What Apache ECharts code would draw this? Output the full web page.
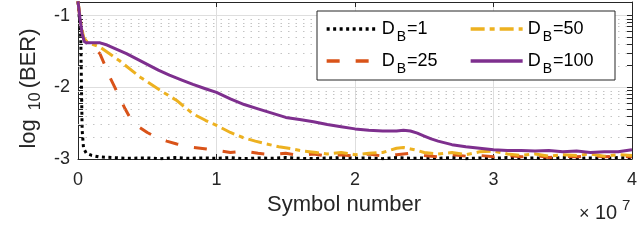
<!DOCTYPE html>
<html>
<head>
<meta charset="utf-8">
<script src="https://cdn.jsdelivr.net/npm/echarts@6/dist/echarts.min.js"></script>
<style>html,body{margin:0;padding:0;background:#fff;}#c{width:640px;height:250px;}</style>
</head>
<body>
<div id="c"></div>
<script>
// x in units of 1e7 symbols, y = log10(BER)
const xTicks = [0, 1, 2, 3, 4];
const yTicks = [-3, -2, -1];
const seriesNames = ['D_B=1', 'D_B=25', 'D_B=50', 'D_B=100'];

const xB1 = [0, 0.02, 0.025, 0.03, 0.04, 0.06, 0.1, 0.15, 0.25, 0.35, 0.5, 0.6, 0.7, 0.8, 0.9, 1.0, 1.1, 1.2, 1.3, 1.4, 1.5, 1.6, 1.7, 1.8, 1.9, 2.0, 2.1, 2.2, 2.3, 2.4, 2.5, 2.6, 2.7, 2.8, 2.9, 3.0, 3.1, 3.2, 3.3, 3.4, 3.5, 3.6, 3.7, 3.8, 3.9, 4.0];
const yB1 = [-0.8, -1.3, -2.0, -2.6, -2.85, -2.92, -2.95, -2.97, -2.98, -2.99, -2.985, -2.995, -2.98, -2.99, -2.985, -2.99, -2.98, -2.995, -2.985, -2.99, -2.98, -2.99, -2.995, -2.985, -2.98, -2.99, -2.985, -2.995, -2.98, -2.99, -2.985, -2.99, -2.98, -2.995, -2.985, -2.99, -2.98, -2.99, -2.985, -2.995, -2.98, -2.99, -2.985, -2.99, -2.98, -2.985];

const xB25 = [0, 0.02, 0.04, 0.07, 0.1, 0.158, 0.2, 0.23, 0.266, 0.3, 0.34, 0.374, 0.446, 0.5, 0.569, 0.64, 0.713, 0.8, 0.929, 1.0, 1.1, 1.2, 1.3, 1.4, 1.5, 1.6, 1.7, 1.8, 1.9, 2.0, 2.1, 2.2, 2.3, 2.4, 2.5, 2.6, 2.7, 2.8, 2.9, 3.0, 3.1, 3.2, 3.3, 3.4, 3.5, 3.6, 3.7, 3.8, 3.9, 4.0];
const yB25 = [-0.8, -1.15, -1.32, -1.38, -1.42, -1.53, -1.72, -1.86, -2.0, -2.14, -2.3, -2.42, -2.56, -2.63, -2.7, -2.75, -2.79, -2.83, -2.86, -2.88, -2.91, -2.89, -2.92, -2.94, -2.92, -2.95, -2.93, -2.96, -2.94, -2.96, -2.93, -2.96, -2.94, -2.92, -2.95, -2.97, -2.94, -2.96, -2.95, -2.97, -2.95, -2.97, -2.95, -2.98, -2.96, -2.97, -2.95, -2.97, -2.96, -2.97];

const xB50 = [0, 0.02, 0.04, 0.07, 0.12, 0.16, 0.3, 0.45, 0.6, 0.71, 0.83, 0.92, 1.0, 1.1, 1.19, 1.28, 1.36, 1.45, 1.55, 1.63, 1.72, 1.8, 1.9, 2.0, 2.1, 2.2, 2.25, 2.3, 2.35, 2.4, 2.45, 2.5, 2.6, 2.7, 2.8, 2.9, 3.0, 3.1, 3.2, 3.3, 3.4, 3.5, 3.6, 3.7, 3.8, 3.9, 4.0];
const yB50 = [-0.8, -1.1, -1.3, -1.38, -1.41, -1.44, -1.63, -1.86, -2.05, -2.18, -2.37, -2.46, -2.53, -2.63, -2.7, -2.75, -2.79, -2.83, -2.86, -2.89, -2.91, -2.93, -2.91, -2.94, -2.92, -2.91, -2.88, -2.85, -2.84, -2.86, -2.88, -2.91, -2.93, -2.91, -2.94, -2.9, -2.89, -2.93, -2.95, -2.93, -2.96, -2.94, -2.95, -2.93, -2.96, -2.94, -2.95];

const xB100 = [0, 0.015, 0.03, 0.045, 0.06, 0.1, 0.16, 0.21, 0.28, 0.35, 0.42, 0.5, 0.58, 0.66, 0.75, 0.83, 0.92, 1.0, 1.1, 1.2, 1.3, 1.4, 1.5, 1.6, 1.7, 1.8, 1.9, 2.0, 2.1, 2.2, 2.3, 2.35, 2.4, 2.45, 2.5, 2.55, 2.6, 2.7, 2.8, 2.9, 3.0, 3.1, 3.2, 3.3, 3.4, 3.5, 3.6, 3.7, 3.8, 3.9, 4.0];
const yB100 = [-0.8, -1.05, -1.25, -1.36, -1.38, -1.38, -1.38, -1.41, -1.47, -1.53, -1.6, -1.68, -1.76, -1.83, -1.9, -1.96, -2.02, -2.07, -2.16, -2.24, -2.3, -2.36, -2.42, -2.45, -2.48, -2.52, -2.55, -2.58, -2.6, -2.61, -2.61, -2.6, -2.61, -2.64, -2.68, -2.72, -2.75, -2.8, -2.83, -2.85, -2.87, -2.88, -2.88, -2.89, -2.88, -2.9, -2.89, -2.91, -2.9, -2.9, -2.87];

const colors = ['#000000', '#D95319', '#EDB120', '#7E2F8E'];
const dashes = [[3, 3.5], [13, 16], [14, 5, 5, 5], 'solid'];

const zip = (xs, ys) => xs.map((x, i) => [x, ys[i]]);
const allData = [zip(xB1, yB1), zip(xB25, yB25), zip(xB50, yB50), zip(xB100, yB100)];

const X_MIN = 0, X_MAX = 4, Y_MIN = -3, Y_MAX = -0.81;
const FONT = '"Liberation Sans", Arial, Helvetica, sans-serif';
const AX = '#262626';
const tickLen = 0.036;

// log-style minor grid positions (log10 of k*10^n)
const minorVals = [];
for (let n = -3; n <= -1; n++) {
  for (let k = 2; k <= 9; k++) {
    const v = n + Math.log10(k);
    if (v < Y_MAX) minorVals.push(v);
  }
}
const minorMark = [];
minorVals.forEach(v => {
  minorMark.push({ yAxis: v, lineStyle: { type: [1.5, 6], color: '#c4c4c4', width: 1 } });
});
minorVals.forEach(v => {
  minorMark.push([{ coord: [X_MIN, v], lineStyle: { type: 'solid', color: AX, width: 1 } }, { coord: [X_MIN + tickLen, v] }]);
  minorMark.push([{ coord: [X_MAX - tickLen, v], lineStyle: { type: 'solid', color: AX, width: 1 } }, { coord: [X_MAX, v] }]);
});

const legendFmt = name => {
  const v = name.split('=')[1];
  return '{d|D}{s|B}{n|=' + v + '}';
};
const legendRich = {
  d: { fontSize: 18, fontFamily: FONT, color: '#000' },
  s: { fontSize: 14, fontFamily: FONT, color: '#000', padding: [16, 1, 0, 2] },
  n: { fontSize: 18, fontFamily: FONT, color: '#000' }
};

const series = seriesNames.map((name, i) => ({
  name: name,
  type: 'line',
  data: allData[i],
  showSymbol: false,
  symbol: 'none',
  z: 3 + i,
  clip: true,
  animation: false,
  lineStyle: { color: colors[i], width: 3, type: dashes[i], cap: 'butt', join: 'round' },
  itemStyle: { color: colors[i] }
}));
series.unshift({
  name: 'grid',
  type: 'line',
  data: [[X_MIN, -10]],
  showSymbol: false,
  symbol: 'none',
  z: 1,
  silent: true,
  animation: false,
  lineStyle: { opacity: 0 },
  markLine: { silent: true, symbol: ['none', 'none'], label: { show: false }, animation: false, data: minorMark }
});

const legendBase = {
  orient: 'vertical', top: 15, itemHeight: 14, itemGap: 8,
  formatter: legendFmt, textStyle: { rich: legendRich }, selectedMode: false, z: 10,
  itemStyle: { opacity: 0, borderWidth: 0 },
  lineStyle: { width: 3.3 }
};

const chart = echarts.init(document.getElementById('c'), null, { renderer: 'canvas' });
chart.setOption({
  animation: false,
  backgroundColor: '#fff',
  textStyle: { fontFamily: FONT },
  grid: { left: 78, right: 6, top: 2, bottom: 91, containLabel: false },
  xAxis: [{
    type: 'value', min: X_MIN, max: X_MAX, interval: 1, position: 'bottom',
    axisLine: { show: true, onZero: false, lineStyle: { color: AX, width: 1 } },
    axisTick: { show: true, inside: true, length: 5, lineStyle: { color: AX } },
    axisLabel: { show: true, fontSize: 18, color: AX, margin: 12, fontFamily: FONT,
      formatter: v => xTicks.indexOf(v) >= 0 ? String(v) : '' },
    splitLine: { show: true, lineStyle: { color: '#dedede', width: 1 } },
    name: 'Symbol number', nameLocation: 'middle', nameGap: 35,
    nameTextStyle: { fontSize: 22, color: AX, fontFamily: FONT, padding: [0, 22, 0, 0] }
  }, {
    type: 'value', min: X_MIN, max: X_MAX, interval: 1, position: 'top',
    axisLine: { show: true, onZero: false, lineStyle: { color: AX, width: 1 } },
    axisTick: { show: true, inside: true, length: 5, lineStyle: { color: AX } },
    axisLabel: { show: false }, splitLine: { show: false }
  }],
  yAxis: [{
    type: 'value', min: Y_MIN, max: Y_MAX, interval: 1, position: 'left',
    axisLine: { show: true, onZero: false, lineStyle: { color: AX, width: 1 } },
    axisTick: { show: true, inside: true, length: 5, lineStyle: { color: AX } },
    axisLabel: { show: true, fontSize: 18, color: AX, margin: 8, fontFamily: FONT,
      formatter: v => yTicks.indexOf(v) >= 0 ? String(v) : '' },
    splitLine: { show: true, lineStyle: { color: '#dedede', width: 1 } },
    name: '{n|log}{s|10}{n|(BER)}', nameLocation: 'middle', nameRotate: 90, nameGap: 30,
    nameTextStyle: { color: AX, padding: [0, 16, 0, 0], rich: {
      n: { fontSize: 22, fontFamily: FONT, color: AX },
      s: { fontSize: 16, fontFamily: FONT, color: AX, padding: [12, 4, 0, 9] }
    } }
  }, {
    type: 'value', min: Y_MIN, max: Y_MAX, interval: 1, position: 'right',
    axisLine: { show: true, onZero: false, lineStyle: { color: AX, width: 1 } },
    axisTick: { show: true, inside: true, length: 5, lineStyle: { color: AX } },
    axisLabel: { show: false }, splitLine: { show: false }
  }],
  legend: [
    Object.assign({}, legendBase, { data: [seriesNames[0], seriesNames[1]], left: 320, itemWidth: 50 }),
    Object.assign({}, legendBase, { data: [seriesNames[2], seriesNames[3]], left: 464, itemWidth: 52 })
  ],
  graphic: [
    { type: 'rect', z: 9, shape: { x: 317, y: 11, width: 298, height: 69 },
      style: { fill: '#fff', stroke: AX, lineWidth: 1 } },
    { type: 'text', left: 579, top: 205, z: 9, style: { text: '×', fontSize: 18, fontFamily: FONT, fill: AX } },
    { type: 'text', left: 595, top: 203, z: 9, style: { text: '10', fontSize: 20, fontFamily: FONT, fill: AX } },
    { type: 'text', left: 622, top: 198, z: 9, style: { text: '7', fontSize: 15, fontFamily: FONT, fill: AX } }
  ],
  series: series
});
</script>
</body>
</html>
